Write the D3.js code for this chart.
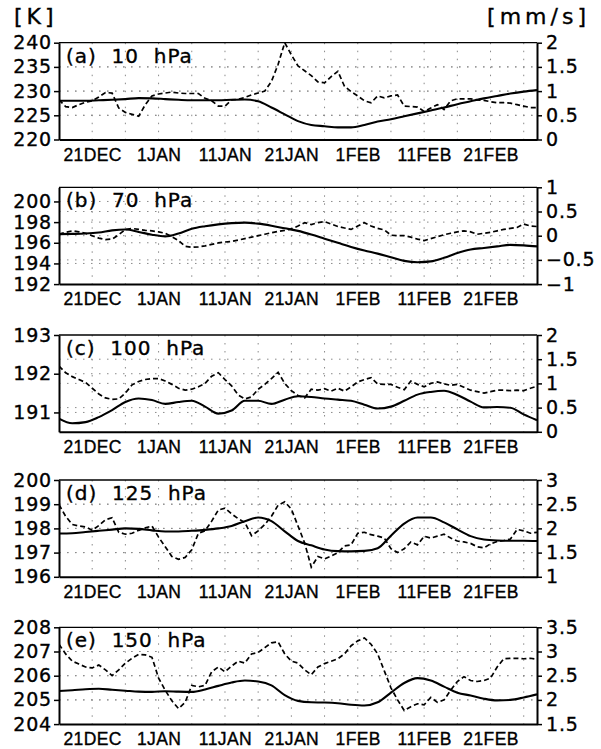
<!DOCTYPE html>
<html>
<head>
<meta charset="utf-8">
<script src="https://cdn.jsdelivr.net/npm/d3@7"></script>
<style>
  body { margin: 0; background: #fff; }
  svg { display: block; }
</style>
</head>
<body>
<svg id="chart" width="601" height="749"></svg>
<script>
// x is a nominal day index: 0 = 16DEC, one grid step = 5
const xTickPos = [5, 15, 25, 35, 45, 55, 65];
const xTickLabels = ["21DEC", "1JAN", "11JAN", "21JAN", "1FEB", "11FEB", "21FEB"];
const xGrid = [5, 10, 15, 20, 25, 30, 35, 40, 45, 50, 55, 60, 65, 70];

const panelLabels = ["(a)  10  hPa", "(b)  70  hPa", "(c)  100  hPa", "(d)  125  hPa", "(e)  150  hPa"];

// left axis [K]
const leftDomains = [[220, 240], [192, 201.37], [190.5, 193], [196, 200], [204, 208]];
const leftTicks = [[220, 225, 230, 235, 240], [192, 194, 196, 198, 200], [191, 192, 193], [196, 197, 198, 199, 200], [204, 205, 206, 207, 208]];
// right axis [mm/s]
const rightDomains = [[0, 2], [-1, 1], [0, 2], [1, 3], [1.5, 3.5]];
const rightTicks = [[0, 0.5, 1, 1.5, 2], [-1, -0.5, 0, 0.5, 1], [0, 0.5, 1, 1.5, 2], [1, 1.5, 2, 2.5, 3], [1.5, 2, 2.5, 3, 3.5]];

// temperature (solid), every 2 days
const temp10 = [228.0, 228.0, 228.0, 228.1, 228.2, 228.35, 228.55, 228.5, 228.35, 228.2, 228.1, 228.1, 228.1, 228.2, 228.25, 227.9, 226.6, 225.2, 223.8, 223.0, 222.75, 222.5, 222.5, 223.0, 223.7, 224.2, 224.8, 225.4, 226.0, 226.6, 227.3, 227.9, 228.5, 229.0, 229.5, 229.9, 230.2];
const temp70 = [196.84, 196.86, 196.9, 197.0, 197.2, 197.28, 197.05, 196.78, 196.62, 196.9, 197.35, 197.6, 197.78, 197.9, 197.95, 197.85, 197.65, 197.4, 197.15, 196.8, 196.4, 196.0, 195.6, 195.25, 194.95, 194.6, 194.25, 194.12, 194.2, 194.55, 195.0, 195.35, 195.5, 195.65, 195.8, 195.75, 195.65];
const temp100 = [190.84, 190.72, 190.75, 190.88, 191.06, 191.27, 191.36, 191.32, 191.22, 191.27, 191.3, 191.15, 190.97, 191.05, 191.3, 191.3, 191.22, 191.33, 191.42, 191.4, 191.36, 191.33, 191.3, 191.2, 191.1, 191.15, 191.3, 191.46, 191.53, 191.56, 191.45, 191.28, 191.13, 191.14, 191.12, 190.95, 190.8];
const temp125 = [197.79, 197.8, 197.85, 197.9, 197.95, 198.0, 197.98, 197.92, 197.87, 197.87, 197.9, 197.94, 198.0, 198.1, 198.3, 198.45, 198.3, 197.88, 197.48, 197.3, 197.13, 197.06, 197.05, 197.07, 197.18, 197.7, 198.2, 198.45, 198.45, 198.25, 197.96, 197.68, 197.54, 197.5, 197.49, 197.49, 197.48];
const temp150 = [205.37, 205.4, 205.44, 205.46, 205.42, 205.38, 205.34, 205.33, 205.36, 205.34, 205.33, 205.43, 205.58, 205.72, 205.8, 205.76, 205.6, 205.2, 204.96, 204.9, 204.89, 204.86, 204.8, 204.77, 204.9, 205.3, 205.7, 205.9, 205.8, 205.55, 205.3, 205.18, 205.05, 204.98, 205.0, 205.1, 205.23];

// mm/s (dashed), daily
const w10 = [0.82, 0.68, 0.66, 0.72, 0.77, 0.80, 0.88, 0.97, 0.96, 0.65, 0.56, 0.52, 0.48, 0.72, 0.90, 0.94, 0.96, 0.98, 0.96, 0.95, 0.95, 0.95, 0.85, 0.80, 0.69, 0.69, 0.82, 0.83, 0.87, 0.92, 0.96, 1.0, 1.2, 1.55, 2.0, 1.75, 1.52, 1.42, 1.32, 1.19, 1.17, 1.3, 1.41, 1.1, 0.99, 0.9, 0.8, 0.76, 0.9, 0.86, 0.9, 0.92, 0.69, 0.68, 0.67, 0.58, 0.65, 0.72, 0.62, 0.8, 0.84, 0.84, 0.84, 0.82, 0.81, 0.78, 0.76, 0.76, 0.75, 0.72, 0.69, 0.66, 0.66];
const w70 = [0.03, 0.07, 0.10, 0.08, 0.05, 0.0, -0.05, -0.08, -0.07, 0.02, 0.13, 0.15, 0.13, 0.11, 0.1, 0.08, 0.05, -0.02, -0.1, -0.22, -0.24, -0.23, -0.21, -0.18, -0.15, -0.13, -0.12, -0.09, -0.06, -0.03, 0.0, 0.03, 0.06, 0.09, 0.11, 0.14, 0.2, 0.27, 0.23, 0.27, 0.29, 0.24, 0.19, 0.16, 0.13, 0.2, 0.27, 0.2, 0.15, 0.12, 0.01, 0.0, 0.0, -0.03, -0.07, -0.1, -0.06, -0.02, 0.02, 0.05, 0.08, 0.1, 0.08, 0.03, 0.05, 0.07, 0.1, 0.13, 0.15, 0.17, 0.24, 0.2, 0.19];
const w100 = [1.36, 1.22, 1.14, 1.08, 1.02, 0.9, 0.78, 0.7, 0.67, 0.68, 0.8, 0.97, 1.04, 1.08, 1.1, 1.1, 1.05, 0.98, 0.9, 0.86, 0.88, 0.93, 1.0, 1.15, 1.22, 1.08, 0.95, 0.76, 0.68, 0.72, 0.88, 0.98, 1.1, 1.23, 1.0, 0.85, 0.75, 0.7, 0.88, 0.86, 0.89, 0.84, 0.9, 0.84, 0.93, 1.03, 1.08, 1.12, 0.99, 0.98, 0.98, 0.92, 0.87, 1.05, 0.98, 0.93, 1.0, 1.03, 0.99, 0.96, 0.98, 0.92, 0.86, 0.83, 0.8, 0.83, 0.86, 0.86, 0.85, 0.86, 0.85, 0.9, 0.94];
const w125 = [2.49, 2.25, 2.08, 2.05, 2.03, 1.96, 2.06, 2.18, 2.22, 1.92, 1.88, 1.9, 1.96, 2.01, 2.05, 1.82, 1.62, 1.42, 1.36, 1.4, 1.56, 1.9, 1.95, 2.15, 2.38, 2.42, 2.3, 2.2, 2.12, 1.85, 1.95, 2.08, 2.25, 2.48, 2.55, 2.4, 2.05, 1.7, 1.2, 1.42, 1.37, 1.43, 1.5, 1.64, 1.66, 1.9, 1.92, 1.87, 1.84, 1.8, 1.58, 1.5, 1.58, 1.72, 1.66, 1.84, 1.8, 1.84, 1.88, 1.8, 1.74, 1.72, 1.69, 1.62, 1.6, 1.68, 1.73, 1.75, 1.78, 1.98, 1.95, 1.9, 1.92];
const w150 = [3.15, 2.95, 2.8, 2.74, 2.68, 2.66, 2.72, 2.62, 2.5, 2.62, 2.76, 2.86, 2.94, 2.93, 2.88, 2.45, 2.2, 1.98, 1.82, 1.95, 2.3, 2.27, 2.3, 2.58, 2.68, 2.58, 2.7, 2.8, 2.76, 2.95, 2.98, 3.08, 3.18, 3.2, 2.95, 2.8, 2.76, 2.62, 2.52, 2.68, 2.75, 2.8, 2.85, 2.95, 3.12, 3.22, 3.28, 3.15, 2.95, 2.6, 2.25, 2.0, 1.78, 1.86, 1.92, 1.9, 2.05, 1.95, 2.0, 2.2, 2.38, 2.48, 2.4, 2.38, 2.4, 2.45, 2.68, 2.85, 2.86, 2.86, 2.85, 2.86, 2.84];

const temps = [temp10, temp70, temp100, temp125, temp150];
const winds = [w10, w70, w100, w125, w150];

const svg = d3.select("#chart");
svg.append("rect").attr("width", 601).attr("height", 749).attr("fill", "#fff");

const left = 59, right = 537, panelH = 96.8;
const panelTop = [42.7, 187.3, 335, 480, 627.3];
const x = d3.scaleLinear().domain([0, 72]).range([left, right]);

const numFont = "DejaVu Sans", dateFont = "Liberation Sans";
const fmt = d => d < 0 ? "\u2212" + Math.abs(d) : String(d);

// heavier strokes on text, like the plotter font
function ink(sel) {
    sel.attr("fill", "#000").attr("stroke", "#000").attr("stroke-width", 0.35);
}

// units on top
svg.append("text").attr("x", 14).attr("y", 24).text("[K]")
    .attr("font-family", numFont).attr("font-size", 22).attr("letter-spacing", 4).call(ink);
svg.append("text").attr("x", 590).attr("y", 24).attr("text-anchor", "end").text("[mm/s]")
    .attr("font-family", numFont).attr("font-size", 22).attr("letter-spacing", 4).call(ink);

panelTop.forEach((top, i) => {
    const bottom = top + panelH;
    const yL = d3.scaleLinear().domain(leftDomains[i]).range([bottom, top]);
    const yR = d3.scaleLinear().domain(rightDomains[i]).range([bottom, top]);
    const g = svg.append("g");

    g.append("clipPath").attr("id", "clip" + i)
        .append("rect").attr("x", left).attr("y", top).attr("width", right - left).attr("height", panelH);

    // dotted grid
    const grid = g.append("g").attr("stroke", "#8a8a8a").attr("stroke-width", 1).attr("stroke-dasharray", "1.5,6.5");
    grid.selectAll("line.v").data(xGrid).join("line").attr("class", "v")
        .attr("x1", d => x(d)).attr("x2", d => x(d)).attr("y1", top).attr("y2", bottom);
    const hy = leftTicks[i].map(yL).concat(rightTicks[i].map(yR))
        .filter(y => y > top + 1 && y < bottom - 1);
    grid.selectAll("line.h").data(hy).join("line").attr("class", "h")
        .attr("x1", left).attr("x2", right).attr("y1", d => d).attr("y2", d => d);

    // series
    const solid = d3.line().x((d, j) => x(j * 2)).y(d => yL(d)).curve(d3.curveMonotoneX);
    const dashed = d3.line().x((d, j) => x(j)).y(d => yR(d));
    g.append("path").attr("d", dashed(winds[i])).attr("clip-path", "url(#clip" + i + ")")
        .attr("fill", "none").attr("stroke", "#000").attr("stroke-width", 1.7).attr("stroke-dasharray", "5,3");
    g.append("path").attr("d", solid(temps[i])).attr("clip-path", "url(#clip" + i + ")")
        .attr("fill", "none").attr("stroke", "#000").attr("stroke-width", 2.1);

    // top frame
    g.append("line").attr("x1", left).attr("x2", right).attr("y1", top).attr("y2", top)
        .attr("stroke", "#000").attr("stroke-width", 1.3);

    // left axis
    const axL = g.append("g").attr("transform", `translate(${left},0)`)
        .call(d3.axisLeft(yL).tickValues(leftTicks[i]).tickSize(5).tickSizeOuter(0).tickPadding(2).tickFormat(fmt));
    // right axis
    const axR = g.append("g").attr("transform", `translate(${right},0)`)
        .call(d3.axisRight(yR).tickValues(rightTicks[i]).tickSize(5).tickSizeOuter(0).tickPadding(4).tickFormat(fmt));
    [axL, axR].forEach(ax => {
        ax.select(".domain").attr("stroke-width", 2);
        ax.selectAll(".tick line").attr("stroke-width", 1.5);
        ax.selectAll("text").attr("font-family", numFont).attr("font-size", 19)
            .attr("letter-spacing", 0.8).call(ink);
    });

    // bottom axis
    const axB = g.append("g").attr("transform", `translate(0,${bottom})`)
        .call(d3.axisBottom(x).tickValues(xTickPos).tickSize(0).tickSizeOuter(0).tickFormat((d, j) => xTickLabels[j]));
    axB.select(".domain").attr("stroke-width", 2);
    axB.selectAll("text").attr("font-family", dateFont).attr("font-size", 17.5).attr("letter-spacing", 0.4)
        .attr("dy", null).attr("y", 21).call(ink);

    // panel label
    g.append("text").attr("x", 66).attr("y", top + 20).text(panelLabels[i])
        .attr("font-family", numFont).attr("font-size", 20).attr("letter-spacing", 1)
        .style("white-space", "pre").call(ink);
});
</script>
</body>
</html>
